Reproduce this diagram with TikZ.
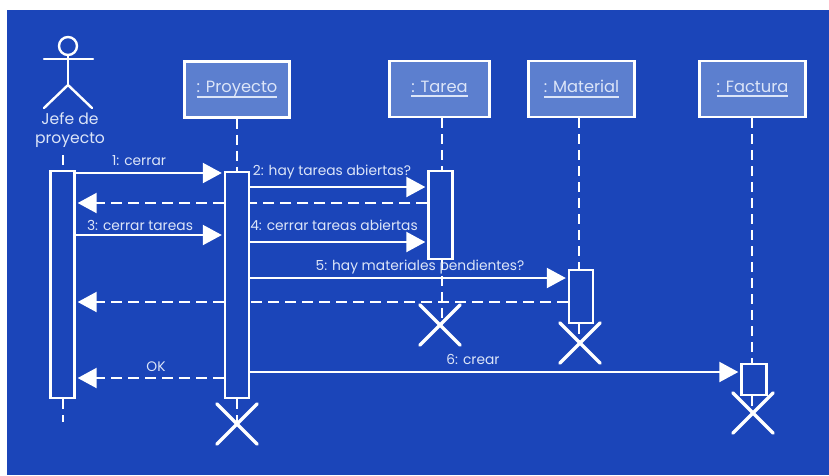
\documentclass[tikz,border=0pt]{standalone}
\usepackage{fontspec}
\setmainfont{Poppins}
\usetikzlibrary{arrows.meta,shapes.misc}
\definecolor{bluebg}{HTML}{1B45B9}
\definecolor{boxfill}{HTML}{5C7FCF}
\definecolor{textblue}{HTML}{DCE5F8}
\newcommand{\objlabel}[1]{\setbox0\hbox{#1}\rlap{\copy0}\rule[-5pt]{\wd0}{1.8pt}}
\tikzset{
  object/.style={draw=white, fill=boxfill, line width=2.4pt, minimum width=#1, minimum height=56pt, inner sep=0pt, text=textblue, font=\fontsize{16.3}{18}\selectfont},
  bar/.style={draw=white, fill=bluebg, line width=2.4pt, minimum width=24pt, minimum height=#1, inner sep=0pt},
  lifeline/.style={draw=white, line width=2.8pt, dash pattern=on 10pt off 6pt},
  msg/.style={draw=white, line width=2.2pt, -{Triangle[length=19pt,width=20pt]}, shorten >=2pt},
  ret/.style={msg, dash pattern=on 11pt off 6pt},
  retline/.style={draw=white, line width=2.2pt, dash pattern=on 11pt off 6pt},
  msglabel/.style={text=textblue, font=\fontsize{13.8}{15}\selectfont, inner sep=0pt},
  destroy/.style={cross out, draw=white, line width=3.4pt, minimum size=37pt, inner sep=0pt, line cap=round}
}
\begin{document}
\begin{tikzpicture}[x=1pt, y=-1pt]
  \useasboundingbox (0,0) rectangle (829,475);
  \fill[bluebg] (7,10) rectangle (829,475);
  %\draw[lightgray] (0,0) grid (829,475);

  % actor
  \node[circle, draw=white, line width=2.4pt, minimum size=18pt, inner sep=0pt] (head) at (68,46) {};
  \coordinate (hip) at (68,85);
  \draw[white, line width=2.4pt, line cap=round] (head.south) -- (hip);
  \draw[white, line width=2.4pt, line cap=round] (44,59) -- (93,59);
  \draw[white, line width=2.4pt, line cap=round] (44,108) -- (hip) -- (92,108);
  \node[text=textblue, align=center, font=\fontsize{15.6}{19}\selectfont, inner sep=0pt] (jefe) at (70,130) {Jefe de\\proyecto};

  % objects
  \node[object=105pt] (proyecto) at (237,89.5) {\objlabel{: Proyecto}};
  \node[object=100pt] (tarea) at (439.5,89) {\objlabel{: Tarea}};
  \node[object=106pt] (material) at (581.5,89) {\objlabel{: Material}};
  \node[object=106pt] (factura) at (752.5,89) {\objlabel{: Factura}};

  % activation bars
  \node[bar=227pt] (barJefe) at (62.5,284.5) {};
  \node[bar=226pt] (barProyecto) at (237,285) {};
  \node[bar=88pt] (barTarea) at (440.5,215) {};
  \node[bar=53pt] (barMaterial) at (581,296.5) {};
  \node[bar=31pt, minimum width=25pt] (barFactura) at (754,379.5) {};

  % destruction marks
  \node[destroy] (xProyecto) at (237,424) {};
  \node[destroy] (xTarea) at (440,325) {};
  \node[destroy] (xMaterial) at (580,343) {};
  \node[destroy] (xFactura) at (753,413) {};

  % lifelines
  \coordinate (lifeJefe) at (63,155);
  \coordinate (endJefe) at (63,422);
  \coordinate (lifeTarea) at (442,120);
  \coordinate (lifeMaterial) at (579,120);
  \coordinate (lifeFactura) at (752,120);
  \draw[lifeline] (lifeJefe) -- (lifeJefe |- barJefe.north);
  \draw[lifeline] (lifeJefe |- barJefe.south) -- (endJefe);
  \draw[lifeline] (proyecto.south) -- (barProyecto.north);
  \draw[lifeline] (barProyecto.south) -- (xProyecto.center);
  \draw[lifeline] (lifeTarea |- tarea.south) -- (lifeTarea |- barTarea.north);
  \draw[lifeline] (lifeTarea |- barTarea.south) -- (lifeTarea |- xTarea.center);
  \draw[lifeline] (lifeMaterial |- material.south) -- (lifeMaterial |- barMaterial.north);
  \draw[lifeline] (lifeMaterial |- barMaterial.south) -- (lifeMaterial |- xMaterial.center);
  \draw[lifeline] (lifeFactura |- factura.south) -- (lifeFactura |- barFactura.north);
  \draw[lifeline] (lifeFactura |- barFactura.south) -- (lifeFactura |- xFactura.center);

  % messages
  \draw[msg] (barJefe.east |- 0,173) -- (barProyecto.west |- 0,173);
  \node[msglabel] (m1) at (139,161) {1: cerrar};
  \draw[msg] (barProyecto.east |- 0,187) -- (barTarea.west |- 0,187);
  \node[msglabel] (m2) at (332,172) {2: hay tareas abiertas?};
  \draw[retline] (barTarea.west |- 0,203) -- (barProyecto.east |- 0,203);
  \draw[ret] (barProyecto.west |- 0,203) -- (barJefe.east |- 0,203);
  \draw[msg] (barJefe.east |- 0,235) -- (barProyecto.west |- 0,235);
  \node[msglabel] (m3) at (140,225) {3: cerrar tareas};
  \draw[msg] (barProyecto.east |- 0,242) -- (barTarea.west |- 0,242);
  \node[msglabel] (m4) at (334,225) {4: cerrar tareas abiertas};
  \draw[msg] (barProyecto.east |- 0,278) -- (barMaterial.west |- 0,278);
  \node[msglabel] (m5) at (420,267) {5: hay materiales pendientes?};
  \draw[retline] (barMaterial.west |- 0,302) -- (barProyecto.east |- 0,302);
  \draw[ret] (barProyecto.west |- 0,302) -- (barJefe.east |- 0,302);
  \draw[msg] (barProyecto.east |- 0,372) -- (barFactura.west |- 0,372);
  \node[msglabel] (m6) at (473,359) {6: crear};
  \draw[ret] (barProyecto.west |- 0,378) -- (barJefe.east |- 0,378);
  \node[msglabel] (ok) at (156,367) {OK};
\end{tikzpicture}
\end{document}
